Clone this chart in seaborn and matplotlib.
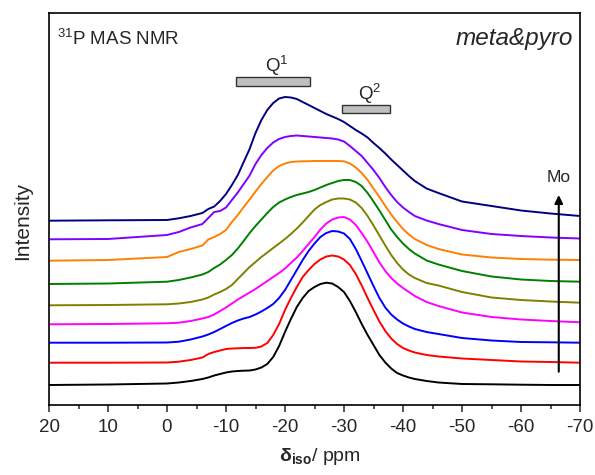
import numpy as np
import pandas as pd
import matplotlib
matplotlib.use("Agg")
import matplotlib.pyplot as plt
from matplotlib.patches import Rectangle
import seaborn as sns

# chemical shift grid (ppm)
ppm = [20, 10, 0, -2, -4, -6,
       -7, -8, -9, -10, -11, -12, -13, -14, -15, -16,
       -17, -18, -19, -20, -21, -22, -23, -24, -25, -26,
       -27, -28, -29, -30, -31, -32, -33, -34, -35, -36,
       -37, -38, -39, -40, -41, -42,
       -44, -46, -50, -55, -60, -65, -70]

# stacked spectra (offset intensity, arbitrary units), bottom -> top (increasing Mo)
s1 = [20, 20.5, 21.5, 22.5, 24, 26,
      27.5, 29.5, 31, 32.5, 33.5, 34, 34.3, 34.5, 35.5, 37.5,
      41, 48, 59, 73, 86, 98, 107, 114, 118, 121,
      122.3, 121.5, 118, 113, 104, 93, 81, 70, 60, 50,
      42.5, 36.5, 32, 29.5, 27.5, 26,
      24, 22.5, 21, 20.7, 20.3, 20, 20]
s2 = [42.3, 42.3, 42.5, 43.3, 45, 47.5,
      51, 53, 54.5, 56, 56.5, 56.7, 57, 57, 57.2, 58.5,
      62, 70, 81, 95, 107, 118, 128, 135, 141, 145.5,
      148.5, 149.5, 148.5, 145.5, 140, 131, 119.5, 107, 95, 83.5,
      74, 66.5, 61, 57, 54.5, 52.5,
      50, 48.5, 46.5, 45, 43.5, 43, 42.3]
s3 = [62.3, 62.3, 62.5, 63.3, 65.5, 68.5,
      70.5, 73, 76, 79, 82, 84.5, 86.5, 88, 90.5, 93.5,
      97, 101, 107, 115, 125, 135, 145, 154, 161.5, 168,
      172, 174, 173.5, 171.5, 166, 156, 144, 131.5, 119, 107,
      97.5, 90.5, 85.5, 81.5, 78.5, 76,
      73, 71, 67, 64.5, 63, 62.7, 62.3]
s4 = [80.7, 81, 81.7, 82.3, 84, 86.5,
      88, 90.5, 94, 97.5, 101.5, 105.5, 109, 112.5, 116, 120,
      124, 128, 132, 136.5, 142, 147.5, 154, 161, 168, 175.5,
      181.5, 185.5, 187.5, 188, 185.5, 180, 172, 163, 153, 142.5,
      134, 127, 121.5, 117, 113, 109,
      103, 99, 92.5, 88, 85.5, 84, 82.7]
s5 = [99.7, 100, 100.7, 101.5, 103, 105.5,
      107.5, 110.5, 113, 116, 120, 126, 132, 138, 143, 148,
      152.5, 157, 161.5, 166, 171, 176.5, 182.5, 189, 195.5, 200,
      203, 205.5, 206.5, 206.5, 205.5, 202.5, 197, 189, 179.5, 169.5,
      159.5, 150, 142, 135.5, 130.5, 127,
      122, 119.5, 113, 107.5, 105, 103.5, 102.3]
s6 = [121, 121.5, 123.3, 125, 127.5, 130.5,
      133, 137, 140.5, 145, 150, 156.5, 164, 172, 179, 185.5,
      192, 198, 202.5, 205.5, 208, 210, 211.5, 213, 215, 217.5,
      220, 222, 224, 225, 225, 223, 219, 212, 203.5, 194.5,
      185, 175.5, 168, 161.5, 156, 151.5,
      144.5, 140.5, 134, 128.5, 125.5, 124, 123.3]
s7 = [144.3, 145, 148, 153, 156, 159.5,
      165.5, 168, 171, 175, 183, 190, 198, 205.5, 213.5, 221,
      228, 234.5, 239, 241.5, 243, 243.5, 243.7, 243.8, 244, 244,
      244, 244, 244, 243.7, 241.5, 237.5, 232, 225, 216.5, 208,
      199, 190.5, 183, 176, 170.5, 166,
      160, 156, 150.5, 147.5, 146, 145.3, 145]
s8 = [165.7, 166, 170, 173, 177.5, 181,
      187, 193, 194, 197.5, 205, 212.5, 221, 229.5, 241, 250,
      257, 262.5, 266, 268, 269, 269.5, 269, 268.5, 268, 267.5,
      267, 266.5, 265.5, 263.5, 259, 254, 249, 242, 235, 227,
      218, 210, 203, 197.5, 193, 189,
      184.5, 181, 175, 171, 169, 167.5, 166.5]
s9 = [184.3, 184.7, 185, 186.7, 189, 192,
      196, 198.5, 204, 211, 220, 230, 243, 256, 272, 285,
      295, 302, 306.5, 308, 307.5, 306, 303, 300, 297, 294,
      291, 288.5, 286, 283, 279, 275, 271.5, 267.5, 262, 257,
      251.5, 245.5, 240, 234.5, 229, 224,
      216.5, 212, 203.5, 199, 194.5, 191.5, 189]

series = [s1, s2, s3, s4, s5, s6, s7, s8, s9]
names = ["s1", "s2", "s3", "s4", "s5", "s6", "s7", "s8", "s9"]
colors = ["#000000", "#FF0000", "#0000FF", "#FF00FF", "#808000",
          "#008000", "#FF8000", "#8000FF", "#000080"]

# region markers
q_labels = ["Q$^{1}$", "Q$^{2}$"]
q_ppm = [(-11.7, -24.2), (-29.6, -37.8)]
q_bar_y = [(319, 328), (292.3, 300)]
mo_arrow_ppm = -66.4
mo_arrow_y = (33.3, 210)

sns.set_style("ticks")
plt.rcParams["font.family"] = ["Liberation Sans", "DejaVu Sans"]
plt.rcParams["mathtext.fontset"] = "custom"
plt.rcParams["mathtext.rm"] = "Liberation Sans"
plt.rcParams["mathtext.it"] = "Liberation Sans:italic"
plt.rcParams["mathtext.bf"] = "Liberation Sans:bold"
plt.rcParams["axes.unicode_minus"] = False

df = pd.concat([pd.DataFrame({"ppm": ppm, "intensity": s, "sample": n})
                for s, n in zip(series, names)], ignore_index=True)

fig = plt.figure(figsize=(5.95, 4.75), dpi=100)
ax = fig.add_axes([49 / 595, 1 - 405 / 475, 531 / 595, 392 / 475])

sns.lineplot(data=df, x="ppm", y="intensity", hue="sample", hue_order=names,
             palette=colors, estimator=None, sort=False, legend=False,
             lw=1.4, ax=ax)

ax.set_xlim(20, -70)
ax.set_ylim(0, 392)
ax.set_xticks(np.arange(20, -71, -10))
ax.set_xticks(np.arange(15, -70, -10), minor=True)
ax.set_yticks([])
ax.tick_params(axis="x", which="major", direction="out", length=5, width=1.1,
               labelsize=13.5, pad=5, top=False)
ax.tick_params(axis="x", which="minor", direction="out", length=3, width=1.1, top=False)
for sp in ax.spines.values():
    sp.set_linewidth(1.2)
    sp.set_color("black")

ax.set_xlabel(r"$\mathbf{\delta}_{\mathbf{iso}}$/ ppm", fontsize=14)
ax.xaxis.set_label_coords(0.51, -0.105)
ax.set_ylabel("Intensity", fontsize=15)
ax.yaxis.set_label_coords(-0.032, 0.47)

ax.text(0.015, 0.918, "$^{31}$P MAS NMR", transform=ax.transAxes, fontsize=13.5,
        ha="left", va="baseline")
ax.text(0.987, 0.918, "meta&pyro", transform=ax.transAxes, fontsize=17.5,
        style="italic", ha="right", va="baseline")

for lab, (p0, p1), (y0, y1) in zip(q_labels, q_ppm, q_bar_y):
    ax.add_patch(Rectangle((p1, y0), p0 - p1, y1 - y0, facecolor="#C0C0C0",
                           edgecolor="#333333", lw=1.0))
    ax.text((p0 + p1) / 2 - 0.6, y1 + 5.5, lab, fontsize=13.5, ha="center", va="baseline")

ax.annotate("", xy=(mo_arrow_ppm, mo_arrow_y[1]), xytext=(mo_arrow_ppm, mo_arrow_y[0]),
            arrowprops=dict(arrowstyle="-|>", color="black", lw=1.5,
                            mutation_scale=12, shrinkA=0, shrinkB=0))
ax.text(mo_arrow_ppm, mo_arrow_y[1] + 18, "Mo", fontsize=12.5, ha="center", va="center")

fig.savefig("out.png", dpi=100)
